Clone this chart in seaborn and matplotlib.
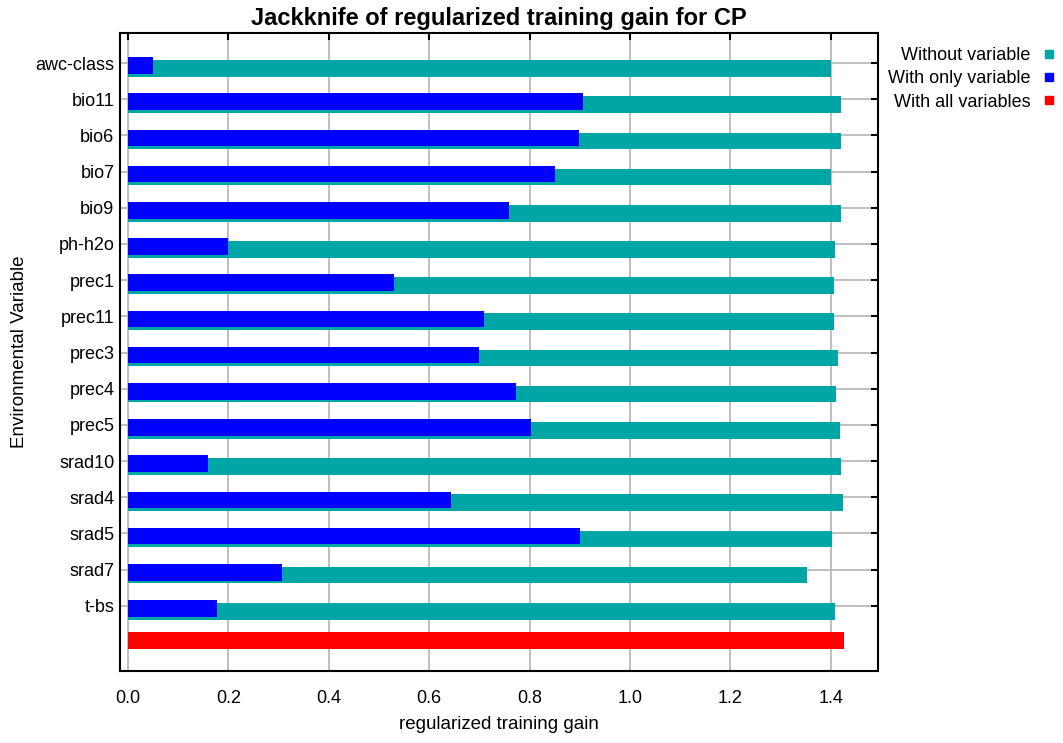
import pandas as pd
import seaborn as sns
import matplotlib.pyplot as plt
from matplotlib.lines import Line2D

# Jackknife values
variables = ["awc-class", "bio11", "bio6", "bio7", "bio9", "ph-h2o", "prec1", "prec11",
             "prec3", "prec4", "prec5", "srad10", "srad4", "srad5", "srad7", "t-bs"]
without_var = [1.400, 1.421, 1.421, 1.400, 1.421, 1.408, 1.406, 1.406,
               1.415, 1.411, 1.418, 1.421, 1.424, 1.402, 1.353, 1.409]
only_var = [0.050, 0.907, 0.899, 0.850, 0.758, 0.199, 0.530, 0.710,
            0.700, 0.772, 0.802, 0.160, 0.644, 0.901, 0.307, 0.178]
all_vars = 1.427
x_ticks = [0.0, 0.2, 0.4, 0.6, 0.8, 1.0, 1.2, 1.4]

teal = "#00a6a6"
blue = "#0000ff"
red = "#ff0000"

sns.set_style("white")
plt.rcParams['font.family'] = ['Liberation Sans', 'DejaVu Sans']
plt.rcParams['text.color'] = 'black'
plt.rcParams['axes.labelcolor'] = 'black'
plt.rcParams['xtick.color'] = 'black'
plt.rcParams['ytick.color'] = 'black'

df = pd.DataFrame({"variable": variables, "without": without_var, "only": only_var})
order = variables + [" "]

fig, ax = plt.subplots(figsize=(10.63, 7.43), dpi=100)
fig.subplots_adjust(left=120 / 1063, right=878 / 1063, top=1 - 33 / 743, bottom=1 - 671 / 743)

# Teal bars first, blue on top, red for the full model at the bottom
sns.barplot(data=df, x="without", y="variable", order=order, orient="h",
            color=teal, width=0.46, saturation=1, ax=ax)
n_teal = len(ax.patches)
sns.barplot(data=df, x="only", y="variable", order=order, orient="h",
            color=blue, width=0.46, saturation=1, ax=ax)
n_blue = len(ax.patches)
sns.barplot(x=[all_vars], y=[" "], order=order, orient="h",
            color=red, width=0.47, saturation=1, ax=ax)

# small vertical offsets like MaxEnt draws them
for i, p in enumerate(ax.patches):
    if i < n_teal:
        p.set_y(p.get_y() + 0.15)
    elif i < n_blue:
        p.set_y(p.get_y() + 0.07)
    else:
        p.set_y(p.get_y() - 0.03)
    p.set_edgecolor("none")

ax.set_xlim(-0.016, 1.494)
ax.set_ylim(16.8, -0.83)
ax.set_xticks(x_ticks)
ax.set_xticklabels([f"{t:.1f}" for t in x_ticks])
ax.set_yticks(range(len(variables)))
ax.set_yticklabels(variables)

ax.grid(True, color="#b4b4b4", linewidth=1.2)
ax.set_axisbelow(True)
for s in ax.spines.values():
    s.set_color("black")
    s.set_linewidth(1.5)
    s.set_visible(True)

ax.tick_params(axis="both", direction="in", length=5, width=1.5, color="black",
               labelcolor="black", top=True, right=True, labelsize=13)
ax.tick_params(axis="x", pad=14)
ax.tick_params(axis="y", pad=4)

ax.set_title("Jackknife of regularized training gain for CP", fontsize=17,
             fontweight="bold", pad=6, color="black")
ax.set_xlabel("regularized training gain", fontsize=13.5, labelpad=6, color="black")
ax.set_ylabel("Environmental Variable", fontsize=13.5, labelpad=5, color="black")

handles = [Line2D([], [], marker="s", linestyle="none", markersize=6, color=c)
           for c in (teal, blue, red)]
fig.legend(handles, ["Without variable", "With only variable", "With all variables"],
           loc="upper right", bbox_to_anchor=(1063 / 1063, 1 - 38 / 743),
           frameon=False, markerfirst=False, fontsize=13, handlelength=0.6,
           handletextpad=0.7, labelspacing=0.35, borderpad=0)

plt.savefig("out.png", dpi=100)
